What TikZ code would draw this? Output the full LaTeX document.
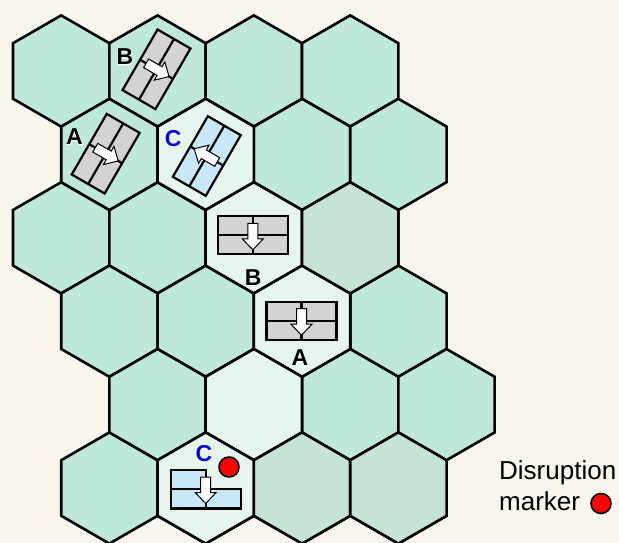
\documentclass[tikz,border=0pt]{standalone}
\usepackage{fontspec}
\setmainfont{Liberation Sans}
\newfontfamily\unitfont{Liberation Sans Bold}
\newfontfamily\halofont{Liberation Sans Bold}[FakeBold=5]
\definecolor{papercream}{RGB}{248,245,237}
\definecolor{hexgreen}{RGB}{190,232,216}
\definecolor{hexlight}{RGB}{230,246,239}
\definecolor{hexdark}{RGB}{198,228,211}
\definecolor{countergray}{RGB}{211,211,214}
\definecolor{counterblue}{RGB}{200,232,248}
\definecolor{labelblue}{RGB}{0,0,235}
\tikzset{
  hexcell/.style={draw=black,line width=2.6pt,line join=miter,fill=hexgreen},
  lightcell/.style={hexcell,fill=hexlight},
  darkcell/.style={hexcell,fill=hexdark},
  counterline/.style={draw=black,line width=2.2pt,line join=miter},
  facing/.style={draw=black,line width=1pt,fill=white,line join=miter},
  unitlbl/.style={inner sep=0pt,font=\unitfont\fontsize{23}{23}\selectfont},
  unithalo/.style={inner sep=0pt,text=white,font=\halofont\fontsize{23}{23}\selectfont},
  legendtxt/.style={inner sep=0pt,anchor=base west,font=\fontsize{26}{26}\selectfont},
  disruptdot/.style={draw=black,line width=1.6pt,fill=red}
}
% one hex cell, pointy top, centre in pixels
\newcommand{\hexat}[3]{\path[#3] (#1,#2-55.6) -- ++(48.17,27.8) -- ++(0,55.6)
  -- ++(-48.17,27.8) -- ++(-48.17,-27.8) -- ++(0,-55.6) -- cycle;}
% unit counter: centre x, centre y, rotation, fill
\newcommand{\unitcounter}[4]{%
  \begin{scope}[shift={(#1,#2)},rotate=#3]
    \path[counterline,fill=#4] (-35,-19) rectangle (35,19);
    \draw[counterline] (-35,0) -- (35,0) (0,-19) -- (0,19);
    \path[facing] (-5,-12) -- (5,-12) -- (5,3.5) -- (10.5,3.5) -- (0,14.5)
      -- (-10.5,3.5) -- (-5,3.5) -- cycle;
  \end{scope}}
% letter with white halo
\newcommand{\unitlabel}[5]{%
  \node[unithalo] at (#2,#3) {#5};
  \node[unitlbl,text=#4] (#1) at (#2,#3) {#5};}
\begin{document}
\begin{tikzpicture}[x=1pt,y=-1pt]
  \useasboundingbox (0,0) rectangle (619,543);
  \fill[papercream] (0,0) rectangle (619,543);

  \foreach \y in {71,237.8}
    \foreach \c in {0,...,3}
      \hexat{61.2+96.33*\c}{\y}{hexcell};
  \foreach \y in {154.4,321.2,488}
    \foreach \c in {0,...,3}
      \hexat{109.4+96.33*\c}{\y}{hexcell};
  \foreach \c in {1,...,4}
    \hexat{61.2+96.33*\c}{404.6}{hexcell};

  \foreach \x/\y in {205.73/154.4,253.86/237.8,302.06/321.2,253.86/404.6,205.73/488}
    \hexat{\x}{\y}{lightcell};
  \foreach \x/\y in {350.19/237.8,302.06/488,398.39/488}
    \hexat{\x}{\y}{darkcell};

  \unitcounter{156.5}{69.3}{60}{countergray}
  \unitcounter{105.7}{153.7}{60}{countergray}
  \unitcounter{206.8}{156}{240}{counterblue}
  \unitcounter{252.8}{235.3}{0}{countergray}
  \unitcounter{301.5}{320.7}{0}{countergray}

  % disrupted unit C
  \begin{scope}[shift={(205.7,489)}]
    \path[counterline,fill=counterblue] (-35,-19) -- (0,-19) -- (0,0) -- (35,0)
      -- (35,19.5) -- (-35,19.5) -- cycle;
    \draw[counterline] (-35,0) -- (0,0) (0,-19) -- (0,19.5);
    \path[facing] (-5,-12) -- (5,-12) -- (5,3.5) -- (10.5,3.5) -- (0,14.5)
      -- (-10.5,3.5) -- (-5,3.5) -- cycle;
  \end{scope}

  \unitlabel{labelBtop}{125}{57}{black}{B}
  \unitlabel{labelAtop}{74.5}{137}{black}{A}
  \unitlabel{labelCtop}{173.3}{138.5}{labelblue}{C}
  \unitlabel{labelBmid}{253.3}{277.3}{black}{B}
  \unitlabel{labelAmid}{300}{358}{black}{A}
  \unitlabel{labelCbot}{204}{453.3}{labelblue}{C}

  \draw[disruptdot] (229,467) circle (10pt);

  \node[legendtxt] (disruption) at (499,479.6) {Disruption};
  \node[legendtxt] (marker) at (499,510.7) {marker};
  \draw[disruptdot] (601,503.5) circle (10pt);
\end{tikzpicture}
\end{document}
